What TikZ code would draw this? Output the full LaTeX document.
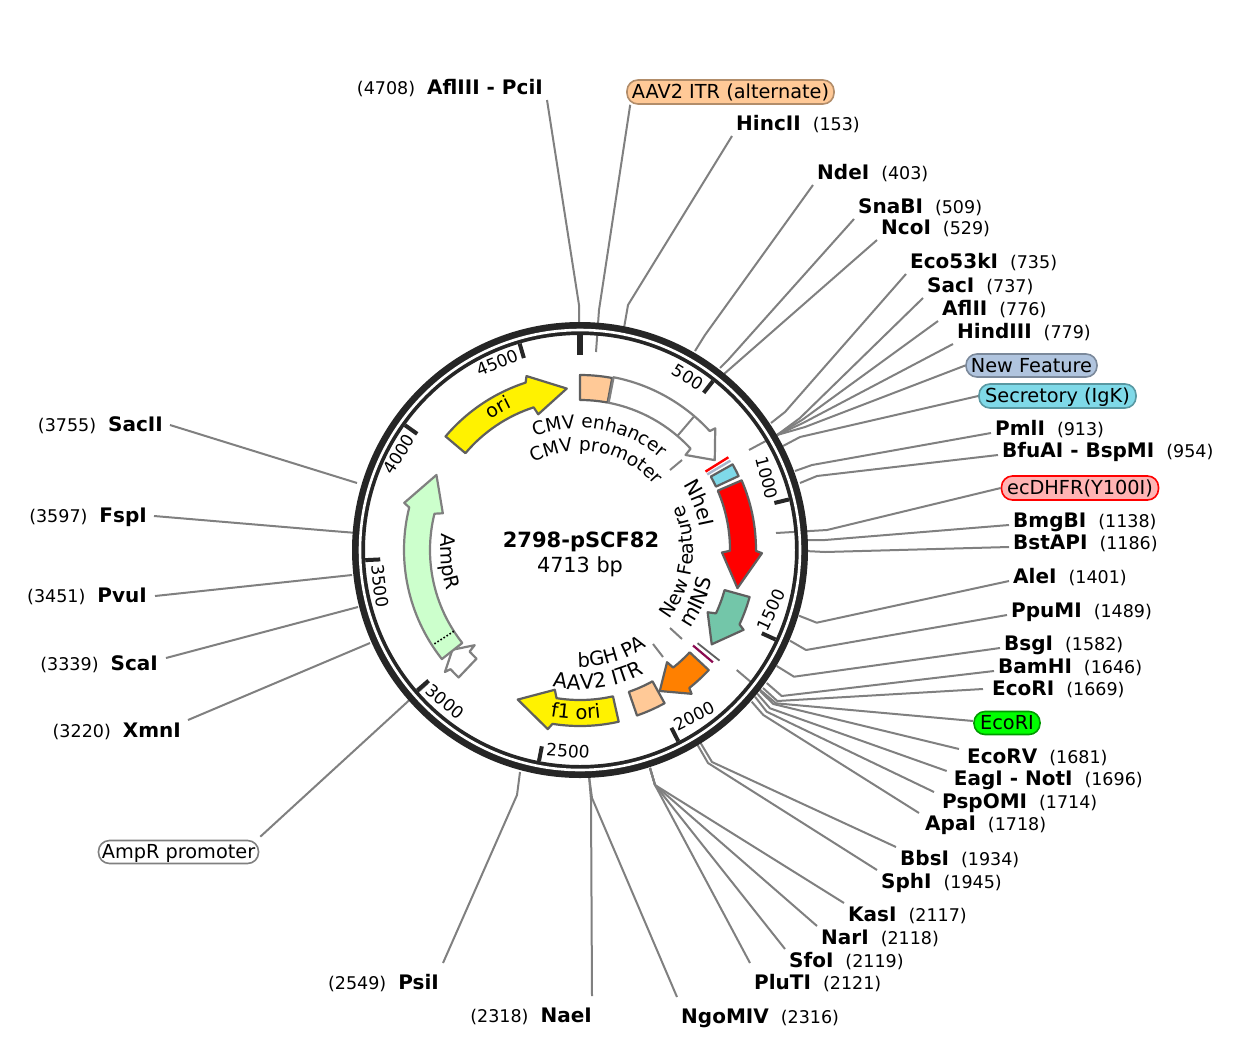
\documentclass[tikz,border=0pt]{standalone}
\usepackage{fontspec}
\setmainfont{DejaVu Sans}
\usetikzlibrary{decorations.text}
\definecolor{ringc}{HTML}{262626}
\definecolor{leadc}{HTML}{808080}
\definecolor{edgec}{HTML}{5F5F5F}
\definecolor{itrc}{HTML}{FFC997}
\definecolor{nfc}{HTML}{B0C4DE}
\definecolor{secc}{HTML}{7FD9E8}
\definecolor{dhfrc}{HTML}{FFB3B3}
\definecolor{insc}{HTML}{73C6A9}
\definecolor{ampc}{HTML}{CCFFCC}
\definecolor{orangec}{HTML}{FF8000}
\definecolor{purplec}{HTML}{8B0A50}
\newcommand{\lbname}[1]{{\fontsize{20}{20}\selectfont\bfseries #1}}
\newcommand{\lbnum}[1]{{\fontsize{17.5}{17.5}\selectfont #1}}
\newcommand{\gapp}{\hspace{12pt}}
\newcommand{\fff}{\fontsize{19.3}{19.3}\selectfont}
\tikzset{
  lab/.style={inner xsep=4pt,inner ysep=4pt,text height=14.5pt,text depth=1.5pt},
  far/.style={inner ysep=12pt},
  low/.style={inner ysep=-4pt},
  leader/.style={draw=leadc,line width=2pt,line join=round},
  pill/.style={draw,line width=1.6pt,rounded corners=11pt,inner sep=0pt,text height=14.5pt,text depth=1.5pt,font=\fff},
  tickm/.style={draw=ringc,line width=4pt},
  ticklab/.style={font=\fontsize{17}{17}\selectfont,inner sep=0pt},
  feat/.style={draw=edgec,line width=2.2pt,line join=round},
  stub/.style={draw=leadc,line width=2pt}
}
% site label with its leader
\newcommand{\site}[7]{%
  \node[lab,#3] (#1) at (#4) {#5};
  \coordinate (#1r) at (#7);
  \draw[leader] (#1.#2) -- #6 -- (#1r);
}
% feature arrow, clockwise: start, neck, wing, tip, style
\newcommand{\farrow}[5]{%
  \path[feat,#5] ({90-#1}:176pt) arc[start angle={90-#1},end angle={90-#2},radius=176pt]
   -- ({90-#3}:182pt) -- ({90-#4}:162pt) -- ({90-#3}:142pt) -- ({90-#2}:150pt)
   arc[start angle={90-#2},end angle={90-#1},radius=150pt] -- cycle;
}
\newcommand{\fseg}[3]{%
  \path[feat,#3] ({90-#1}:175pt) arc[start angle={90-#1},end angle={90-#2},radius=175pt]
   -- ({90-#2}:150pt) arc[start angle={90-#2},end angle={90-#1},radius=150pt] -- cycle;
}
\newcommand{\tickat}[3]{\draw[tickm,#3] ({90-#1}:215pt) -- ({90-#1}:#2pt);}
% curved text along an arc: font size, radius, start and end (clockwise degrees from the top), text
\newcommand{\cwtext}[5]{%
  \path[postaction={decorate},decoration={text along path,text align=center,text={|\fontsize{#1}{#1}\selectfont|#5}}]
   ({90-#3}:#2pt) arc[start angle={90-#3},end angle={90-#4},radius=#2pt];
}
\begin{document}
\begin{tikzpicture}[x=1pt,y=-1pt]
\useasboundingbox (0,0) rectangle (1239,1047);
\fill[white] (0,0) rectangle (1239,1047);

% labels and leaders: top
\site{afl}{south east}{anchor=south east}{547,100}{\lbnum{(4708)}\gapp\lbname{AflIII - PciI}}{(579,305)}{579,328}
\node[pill,fill=itrc,draw=itrc!70!black,minimum width=207pt,minimum height=24pt] (itrA) at (730.5,92) {AAV2 ITR (alternate)};
\coordinate (itrAr) at (596,352);
\draw[leader] ([xshift=4pt]itrA.south west) -- (599,310) -- (itrAr);
\site{hinc}{south west}{anchor=south west}{732,136}{\lbname{HincII}\gapp\lbnum{(153)}}{(628,305)}{624,328}
\site{nde}{south west}{anchor=south west}{813,185}{\lbname{NdeI}\gapp\lbnum{(403)}}{(705,335)}{695,351}
\site{sna}{south west}{anchor=south west}{854,219}{\lbname{SnaBI}\gapp\lbnum{(509)}}{(728,360)}{720,368}
\site{nco}{south west}{anchor=south west}{877,240}{\lbname{NcoI}\gapp\lbnum{(529)}}{(740,360)}{724,374}
\site{ecoa}{south west}{anchor=south west}{906,274}{\lbname{Eco53kI}\gapp\lbnum{(735)}}{(785,412)}{771,423}
\site{sac}{south west}{anchor=south west}{923,298}{\lbname{SacI}\gapp\lbnum{(737)}}{(800,418)}{777,435}
\site{afb}{south west}{anchor=south west}{938,321}{\lbname{AflII}\gapp\lbnum{(776)}}{(802,420)}{777,435}
\site{hind}{south west}{anchor=south west}{953,344}{\lbname{HindIII}\gapp\lbnum{(779)}}{(803,423)}{777,435}
\node[pill,fill=nfc,draw=nfc!70!black,minimum width=131pt,minimum height=23pt] (nf) at (1031.5,365.5) {New Feature};
\coordinate (nfr) at (749,450);
\draw[leader] (nf.west) -- (805,427) -- (777,435) -- (nfr);
\node[pill,fill=secc,draw=secc!70!black,minimum width=157pt,minimum height=24pt] (sec) at (1057.5,396) {Secretory (IgK)};
\coordinate (secr) at (783,446);
\draw[leader] (sec.west) -- (800,437) -- (secr);
\site{pml}{south west}{anchor=south west,low}{991,433}{\lbname{PmlI}\gapp\lbnum{(913)}}{(812,465)}{795,471}
\site{bfu}{south west}{anchor=south west,low}{998,455}{\lbname{BfuAI - BspMI}\gapp\lbnum{(954)}}{(817,476)}{800,483}
\node[pill,fill=dhfrc,draw=red,minimum width=157pt,minimum height=24pt] (dhfr) at (1080,488) {ecDHFR(Y100I)};
\coordinate (dhfrr) at (776,533);
\draw[leader] (dhfr.west) -- (827,530) -- (dhfrr);
\site{bmg}{south west}{anchor=south west,low}{1009,525}{\lbname{BmgBI}\gapp\lbnum{(1138)}}{(825,540)}{805,540}
\site{bst}{south west}{anchor=south west,low}{1009,547}{\lbname{BstAPI}\gapp\lbnum{(1186)}}{(825,552)}{805,551}
\site{ale}{south west}{anchor=south west,low}{1009,581}{\lbname{AleI}\gapp\lbnum{(1401)}}{(816.7,622.7)}{799,615.7}
\site{ppu}{south west}{anchor=south west,low}{1007,615}{\lbname{PpuMI}\gapp\lbnum{(1489)}}{(806,650)}{790,640.7}
\site{bsg}{south west}{anchor=south west,low}{1000,648}{\lbname{BsgI}\gapp\lbnum{(1582)}}{(794,676.7)}{776.7,666}
\site{bam}{south west}{anchor=south west,low}{994,671}{\lbname{BamHI}\gapp\lbnum{(1646)}}{(781.7,696)}{766.7,683}
\site{ecoi}{west}{anchor=west,inner xsep=9pt}{983,689}{\lbname{EcoRI}\gapp\lbnum{(1669)}}{(777.3,701)}{763,688}
\node[pill,fill=green,draw=green!60!black,minimum width=66pt,minimum height=23pt] (ecob) at (1007,723) {EcoRI};
\coordinate (ecobr) at (736.7,670);
\draw[leader] ([yshift=2pt]ecob.west) -- (776,703.3) -- (ecobr);
\site{ecov}{north west}{anchor=north west,inner xsep=8pt,inner ysep=0pt}{959,749}{\lbname{EcoRV}\gapp\lbnum{(1681)}}{(773.3,704)}{760,691}
\site{eag}{north west}{anchor=north west,inner xsep=7pt,inner ysep=0pt}{946.7,771}{\lbname{EagI - NotI}\gapp\lbnum{(1696)}}{(770,708.3)}{756.7,693}
\site{psp}{north west}{anchor=north west,inner xsep=8pt,inner ysep=2pt}{934,792}{\lbname{PspOMI}\gapp\lbnum{(1714)}}{(766.7,711.7)}{755,696.7}
\site{apa}{north west}{anchor=north west,inner xsep=6pt,inner ysep=3pt}{919,813}{\lbname{ApaI}\gapp\lbnum{(1718)}}{(763.3,715)}{751.7,701.7}
\site{bbs}{north west}{anchor=north west}{896,847}{\lbname{BbsI}\gapp\lbnum{(1934)}}{(712,762)}{700,742}
\site{sph}{north west}{anchor=north west}{877,870}{\lbname{SphI}\gapp\lbnum{(1945)}}{(708,763)}{697,744}
\site{kas}{north west}{anchor=north west}{844,903}{\lbname{KasI}\gapp\lbnum{(2117)}}{(655,785)}{650,768}
\site{nar}{north west}{anchor=north west}{817,926}{\lbname{NarI}\gapp\lbnum{(2118)}}{(655,785)}{650,768}
\site{sfo}{north west}{anchor=north west}{785,949}{\lbname{SfoI}\gapp\lbnum{(2119)}}{(655,785)}{650,768}
\site{plu}{north west}{anchor=north west,far}{750,963}{\lbname{PluTI}\gapp\lbnum{(2121)}}{(655,785)}{650,768}
\site{ngo}{north west}{anchor=north west,far}{677,997}{\lbname{NgoMIV}\gapp\lbnum{(2316)}}{(592,798)}{589,776}
\site{nae}{north east}{anchor=north east,far,inner xsep=0pt}{592,996}{\lbnum{(2318)}\gapp\lbname{NaeI}}{(591,800)}{589,776}
\site{psi}{north east}{anchor=north east,far}{443,963}{\lbnum{(2549)}\gapp\lbname{PsiI}}{(517,795)}{520,772}
\node[pill,fill=white,draw=leadc,minimum width=160pt,minimum height=23pt] (ampp) at (178.5,852) {AmpR promoter};
\coordinate (amppr) at (428,683);
\draw[leader] ([yshift=3pt,xshift=1pt]ampp.north east) -- (amppr);
\site{xmn}{north east}{anchor=north east,inner xsep=7pt,inner ysep=3pt}{188,720}{\lbnum{(3220)}\gapp\lbname{XmnI}}{(279,681.5)}{370,643}
\site{sca}{north east}{anchor=north east,inner xsep=8pt,inner ysep=-2pt}{166,658}{\lbnum{(3339)}\gapp\lbname{ScaI}}{(262,632.5)}{358,607}
\site{pvu}{east}{anchor=east,inner xsep=8pt}{155,596}{\lbnum{(3451)}\gapp\lbname{PvuI}}{(253.5,585.5)}{352,575}
\site{fsp}{east}{anchor=east,inner xsep=7pt}{154,516}{\lbnum{(3597)}\gapp\lbname{FspI}}{(332,531)}{357,533}
\site{sacb}{east}{anchor=east,inner xsep=7pt}{170,425}{\lbnum{(3755)}\gapp\lbname{SacII}}{(263.5,454)}{357,483}

% everything around the plasmid centre
\begin{scope}[shift={(580,550)}]
% rings
\draw[ringc,line width=13pt] (0,0) circle[radius=221.5pt];
\draw[white,line width=2.6pt] (0,0) circle[radius=220pt];
% ticks
\draw[tickm,line width=5.5pt] (90:215pt) -- (90:195pt);
\tickat{38.2}{200}{}
\tickat{76.4}{200}{}
\tickat{114.6}{200}{}
\tickat{152.8}{200}{}
\tickat{191}{200}{}
\tickat{229.2}{200}{}
\tickat{267.3}{200}{}
\tickat{305.5}{200}{}
\tickat{343.7}{200}{}
% features
\fseg{0}{10.6}{fill=itrc}
\farrow{11}{47.5}{48}{56.3}{draw=leadc,fill=white}
\draw[stub] ({90-40.5}:175pt) -- ({90-40.5}:150pt);
\draw[red,line width=2.4pt] ({90-58}:148pt) -- ({90-58}:175pt);
\draw[nfc!80!gray,line width=2.4pt] ({90-59.3}:148pt) -- ({90-59.3}:175pt);
\fseg{60.7}{65}{fill=secc}
\farrow{66.7}{90.3}{91}{103.6}{fill=red}
\farrow{105.5}{115}{116}{125.6}{fill=insc}
\draw[edgec,line width=1.8pt] ({90-128.4}:150pt) -- ({90-128.4}:178pt);
\draw[purplec,line width=2.2pt] ({90-130.2}:148pt) -- ({90-130.2}:174pt);
\farrow{133}{141.6}{142.2}{150.5}{fill=orangec}
\fseg{151.1}{161}{fill=itrc}
\farrow{167.3}{189}{190.2}{202.6}{fill=yellow}
\farrow{223.6}{227.4}{227.9}{232}{draw=leadc,fill=white}
\farrow{231.7}{284}{285}{297.6}{draw=leadc,fill=ampc}
\draw[black,line width=1.6pt,dotted] ({90-237.2}:150pt) -- ({90-237.2}:175pt);
\farrow{310.2}{342}{342.9}{355.3}{fill=yellow}
% curved labels
\cwtext{18.5}{122}{-21.9}{41.5}{CMV enhancer}
\cwtext{18.5}{99}{-28}{49}{CMV promoter}
\cwtext{19}{158}{316}{344}{ori}
\cwtext{20.5}{122}{53}{84}{NheI}
\cwtext{19.5}{139}{280}{250}{AmpR}
\cwtext{19}{113}{130}{64}{New Feature}
\cwtext{20.5}{135}{129}{99}{mINS}
\cwtext{19.5}{117}{184}{142}{bGH PA}
\cwtext{20.5}{139.5}{193}{151}{AAV2 ITR}
\cwtext{19.5}{169}{195}{168}{f1 ori}
\end{scope}

% stubs between curved labels and features
\coordinate (s1a) at (670,470); \coordinate (s1b) at (682,460);
\draw[stub] (s1a) -- (s1b);
\coordinate (s2a) at (670,628); \coordinate (s2b) at (682,639);
\draw[stub] (s2a) -- (s2b);
\coordinate (s3a) at (653,644); \coordinate (s3b) at (663,657);
\draw[stub] (s3a) -- (s3b);

% tick labels
\node[ticklab,rotate=-32] (t500) at (688,377) {500};
\node[ticklab,rotate=-76] (t1000) at (767,478) {1000};
\node[ticklab,rotate=65] (t1500) at (771,610) {1500};
\node[ticklab,rotate=27] (t2000) at (694,716) {2000};
\node[ticklab,rotate=-4] (t2500) at (568,751) {2500};
\node[ticklab,rotate=-40] (t3000) at (445,702) {3000};
\node[ticklab,rotate=-83] (t3500) at (380,586) {3500};
\node[ticklab,rotate=58] (t4000) at (399,454) {4000};
\node[ticklab,rotate=22] (t4500) at (497,363) {4500};

% centre
\node[inner sep=0pt,font=\fontsize{21}{21}\selectfont\bfseries] (title) at (581,542) {2798-pSCF82};
\node[inner sep=0pt,font=\fontsize{20.8}{21}\selectfont] (bp) at (580,567) {4713 bp};
\end{tikzpicture}
\end{document}
